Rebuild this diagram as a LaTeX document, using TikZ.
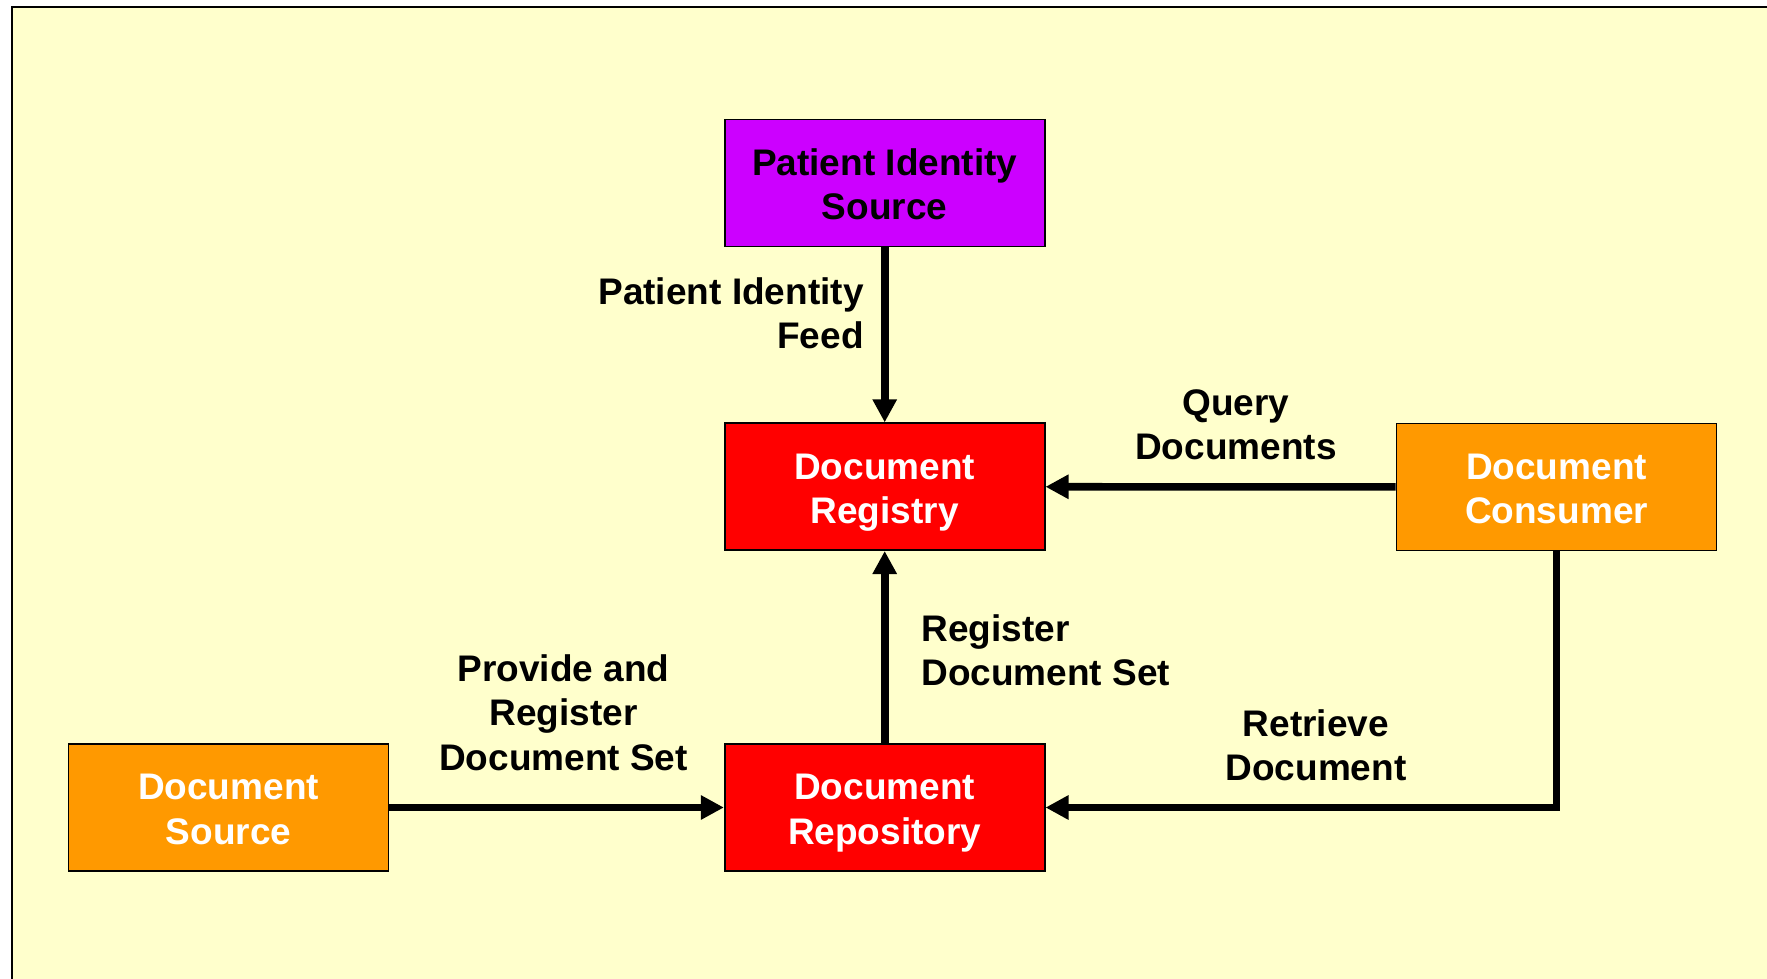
\documentclass[tikz,border=0pt]{standalone}
\usepackage{fontspec}
\setmainfont{Liberation Sans}
\usetikzlibrary{arrows.meta}
\definecolor{paper}{HTML}{FFFFCC}
\definecolor{idpurple}{HTML}{CC00FF}
\definecolor{regred}{HTML}{FF0000}
\definecolor{actorange}{HTML}{FF9900}
\newcommand{\twolines}[2]{\rule{0pt}{19.5pt}#1\\#2\rule[-5pt]{0pt}{5pt}}

\begin{document}
\begin{tikzpicture}[x=0.5pt,y=-0.5pt,
    actor/.style={draw=black,line width=0.8pt,minimum width=160pt,minimum height=63.5pt,
      align=center,inner sep=0pt,text=white,font=\fontsize{18.5}{22.2}\selectfont\bfseries},
    flow/.style={line width=3.8pt,-{Triangle[width=11.5pt,length=11.5pt]}},
    lbl/.style={inner sep=0pt,font=\fontsize{18.5}{22.2}\selectfont\bfseries}]
    \clip (0,0) rectangle (1767,979);
    \fill[white] (0,0) rectangle (1767,979);
    \draw[fill=paper,line width=1pt] (12,7) rectangle (1800,1010);
    % actors
    \node[actor,fill=idpurple,text=black] (pis) at (884.7,183) {\twolines{Patient Identity}{Source}};
    \node[actor,fill=regred] (reg) at (884.7,486.7) {\twolines{Document}{Registry}};
    \node[actor,fill=regred] (rep) at (884.7,807.5) {\twolines{Document}{Repository}};
    \node[actor,fill=actorange] (cons) at (1556.5,487) {\twolines{Document}{Consumer}};
    \node[actor,fill=actorange] (src) at (228.5,807.5) {\twolines{Document}{Source}};
    % transactions
    \draw[flow] (pis) -- (reg);
    \draw[flow] (cons) -- (reg);
    \draw[flow] (rep) -- (reg);
    \draw[flow] (src) -- (rep);
    \draw[flow] (cons.south) |- (rep.east);
    \node[lbl,align=right,anchor=east] (feed) at (864,313) {Patient Identity\\Feed};
    \node[lbl,align=center] (query) at (1236,425) {Query\\Documents};
    \node[lbl,align=left,anchor=west] (regset) at (921,650) {Register\\Document Set};
    \node[lbl,align=center] (provide) at (563.5,712.5) {Provide and\\Register\\Document Set};
    \node[lbl,align=center] (retrieve) at (1316,745.5) {Retrieve\\Document};
\end{tikzpicture}
\end{document}
